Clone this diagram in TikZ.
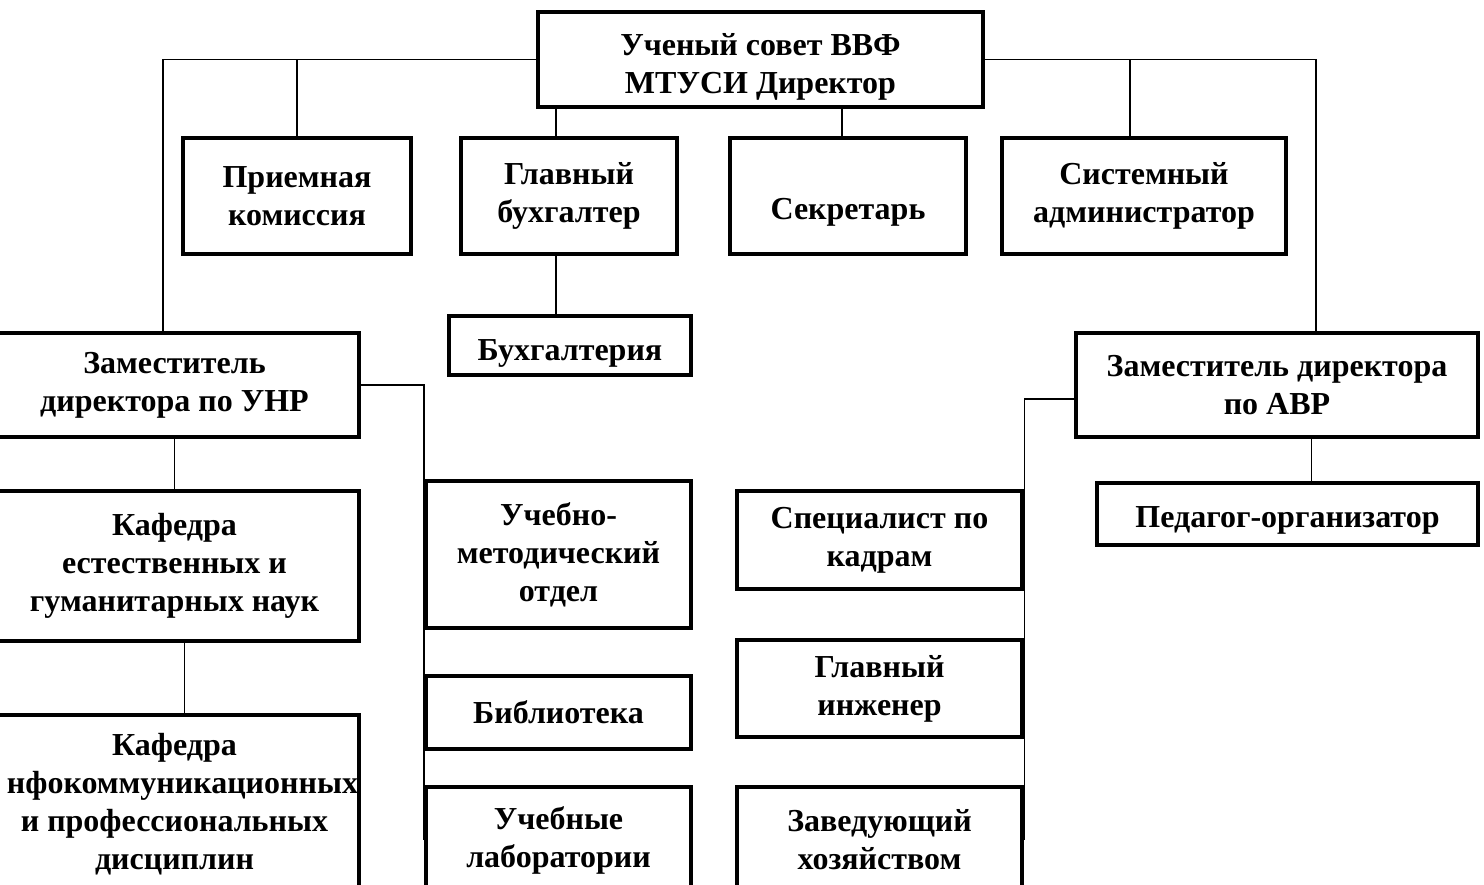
\documentclass[tikz,border=0pt]{standalone}
\usepackage{fontspec}
\setmainfont{Liberation Serif}

\tikzset{
  unit/.style={draw, line width=2.4pt, align=center, inner sep=0pt,
    font=\fontsize{16}{19}\selectfont\bfseries},
  boxsize/.style n args={2}{minimum width=#1*0.5pt, minimum height=#2*0.5pt},
  link/.style={line width=0.9pt},
}

\begin{document}
\begin{tikzpicture}[x=0.5pt, y=-0.5pt]

      \useasboundingbox (0, 0) rectangle (1484, 884);
      \clip (0, 0) rectangle (1484, 884);

      \node[unit, boxsize={445}{95}] (council) at (760.5, 59.5) {\rule{0pt}{18pt}Ученый совет ВВФ\\МТУСИ Директор};

      \node[unit, boxsize={228}{116}] (admission) at (297, 196) {Приемная\\комиссия};
      \node[unit, boxsize={216}{116}] (chiefacc) at (569, 196) {Главный\\бухгалтер};
      \node[unit, boxsize={236}{116}, text height=23.6pt, text depth=0pt] (secretary) at (848, 196) {Секретарь};
      \node[unit, boxsize={284}{116}] (sysadmin) at (1144, 196) {Системный\\администратор};
      \node[unit, boxsize={242}{59}, text height=15pt, text depth=0pt] (accounts) at (570, 345.5) {Бухгалтерия};

      \node[unit, boxsize={369}{104}] (unr) at (174.5, 385) {Заместитель\\директора по УНР};
      \node[unit, boxsize={402}{104}] (avr) at (1277, 385) {Заместитель директора\\по АВР};

      \node[unit, boxsize={369}{150}] (natsci) at (174.5, 566) {Кафедра\\естественных и\\гуманитарных наук};
      \node[unit, boxsize={369}{178}] (infocom) at (174.5, 804) {Кафедра\\\hspace*{8pt}нфокоммуникационных\\и профессиональных\\дисциплин};

      \node[unit, boxsize={265}{147}] (umo) at (558.5, 554.5) {Учебно-\\методический\\отдел};
      \node[unit, boxsize={265}{73}] (library) at (558.5, 712.5) {Библиотека};
      \node[unit, boxsize={265}{106}] (labs) at (558.5, 840) {Учебные\\лаборатории};

      \node[unit, boxsize={285}{98}] (specialist) at (879.5, 540) {Специалист по\\кадрам};
      \node[unit, boxsize={285}{97}] (engineer) at (879.5, 688.5) {Главный\\инженер};
      \node[unit, boxsize={285}{106}] (supply) at (879.5, 840) {Заведующий\\хозяйством};

      \node[unit, boxsize={381}{62}, text height=13.6pt, text depth=0pt] (pedagog) at (1287.5, 514) {Педагог-организатор};

      \draw[link] (council.west) -| ([xshift=-5.75pt]unr.north);
      \draw[link] (council.west) -| (admission.north);
      \draw[link] (council.east) -| ([xshift=19.5pt]avr.north);
      \draw[link] (council.east) -| ([xshift=-7pt]sysadmin.north);
      \draw[link] ([xshift=-6.5pt]chiefacc.north) -- ([xshift=-6.5pt]chiefacc.north |- council.south);
      \draw[link] ([xshift=-3pt]secretary.north) -- ([xshift=-3pt]secretary.north |- council.south);
      \draw[link] ([xshift=-6.5pt]chiefacc.south) -- ([xshift=-6.5pt]chiefacc.south |- accounts.north);

      \draw[link] (unr.south) -- (natsci.north);
      \draw[link] ([xshift=5pt]natsci.south) -- ([xshift=5pt]infocom.north);
      \draw[link] (unr.east) -| (labs.west);

      \draw[link] ([yshift=-7pt]avr.west) -| (supply.east);
      \draw[link] ([xshift=12pt]pedagog.north) -- ([xshift=12pt]pedagog.north |- avr.south);

\end{tikzpicture}
\end{document}
